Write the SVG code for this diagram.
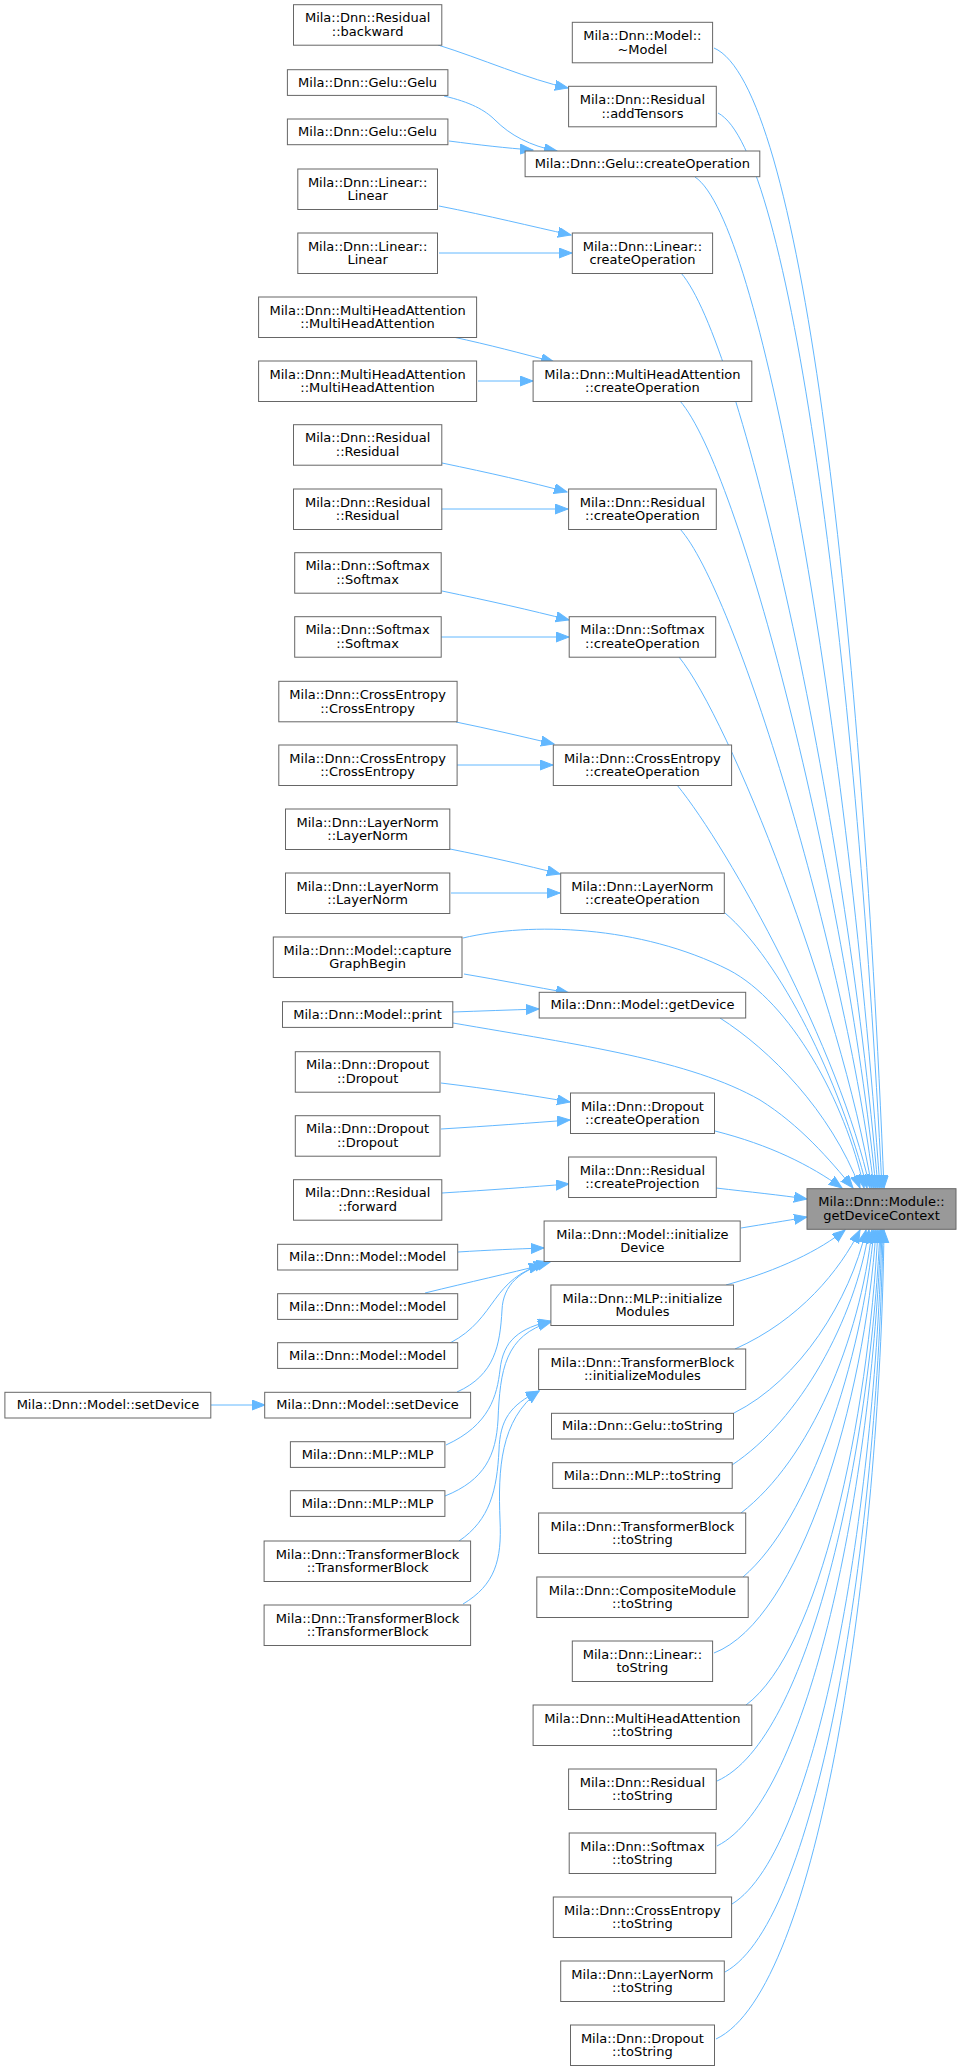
<svg xmlns="http://www.w3.org/2000/svg" width="961" height="2071" viewBox="0 0 961 2071">
<style>
.n rect{fill:#fff;stroke:#666;stroke-width:1}
#target rect{fill:#999}
text{font-family:"DejaVu Sans","Liberation Sans",sans-serif;font-size:13px;text-anchor:middle;fill:#000}
.e path{fill:none;stroke:#63b8ff;stroke-width:1;marker-end:url(#ah)}
</style>
<defs>
<marker id="ah" markerUnits="userSpaceOnUse" markerWidth="14" markerHeight="11" refX="13" refY="5" orient="auto"><path d="M0,0 L13,5 L0,10 Z" fill="#63b8ff" stroke="#63b8ff"/></marker>
</defs>
<rect width="961" height="2071" fill="#fff"/>
<g class="e" id="connectors">
<path d="M438,45 C480,58 530,80 568,88"/>
<path d="M444,96 C470,102 485,110 495,120 C510,135 530,146 557,151"/>
<path d="M449,141 C480,145 505,148 533,150"/>
<path d="M439,206 C490,216 530,226 571,235"/>
<path d="M439,253 L572,253"/>
<path d="M453,337 C490,345 520,353 554,362"/>
<path d="M478,381 L533,381"/>
<path d="M442,463 C490,473 530,482 567,492"/>
<path d="M442,509 L568,509"/>
<path d="M442,591 C490,601 530,610 569,620"/>
<path d="M441,637 L569,637"/>
<path d="M456,722 C490,729 520,736 554,744"/>
<path d="M457,765 L553,765"/>
<path d="M450,849 C490,857 525,865 560,874"/>
<path d="M451,893 L560,893"/>
<path d="M464,974 C500,980 535,987 569,993"/>
<path d="M453,1012 C480,1011 510,1010 539,1009"/>
<path d="M441,1083 C490,1089 530,1095 570,1102"/>
<path d="M441,1129 C490,1126 530,1123 570,1120"/>
<path d="M442,1193 C490,1190 530,1187 569,1184"/>
<path d="M458,1252 C490,1250 515,1249 544,1248"/>
<path d="M425,1293 C470,1282 510,1273 542,1265"/>
<path d="M450,1343 C498,1318 490,1278 547,1263"/>
<path d="M457,1392 C495,1375 500,1345 502,1310 C503,1285 520,1270 550,1262"/>
<path d="M211,1405 L265,1405"/>
<path d="M446,1445 C490,1425 497,1395 500,1370 C503,1340 520,1328 551,1321"/>
<path d="M445,1496 C485,1480 496,1455 498,1420 C500,1370 505,1335 551,1322"/>
<path d="M459,1541 C490,1520 497,1490 499,1450 C500,1420 510,1405 539,1391"/>
<path d="M463,1604 C495,1585 502,1560 500,1520 C498,1470 500,1420 539,1391"/>
<path d="M714,48 C800,85 860,600 884,1188"/>
<path d="M718,113 C790,150 855,650 882,1188"/>
<path d="M695,177 C760,220 845,700 880,1188"/>
<path d="M681,273 C740,340 845,800 878,1188"/>
<path d="M680,401 C740,470 845,880 876,1188"/>
<path d="M680,529 C735,590 845,950 874,1188"/>
<path d="M679,657 C730,720 840,1000 872,1188"/>
<path d="M677,785 C730,850 840,1050 870,1188"/>
<path d="M725,913 C780,960 840,1080 867,1188"/>
<path d="M463,938 C530,922 640,925 729,970 C790,1002 845,1100 864,1188"/>
<path d="M720,1018 C770,1050 830,1110 860,1188"/>
<path d="M453,1023 C580,1045 690,1060 760,1100 C800,1125 830,1160 853,1188"/>
<path d="M715,1131 C770,1145 810,1165 842,1188"/>
<path d="M716,1188 C750,1192 780,1195 807,1199"/>
<path d="M741,1228 C765,1224 785,1221 807,1217"/>
<path d="M726,1285 C780,1270 820,1250 845,1230"/>
<path d="M735,1349 C800,1320 840,1270 860,1230"/>
<path d="M734,1413 C800,1380 850,1300 866,1230"/>
<path d="M732,1465 C800,1420 855,1320 869,1230"/>
<path d="M741,1513 C810,1460 860,1340 872,1230"/>
<path d="M743,1577 C810,1520 862,1360 874,1230"/>
<path d="M714,1653 C800,1620 865,1400 876,1230"/>
<path d="M746,1705 C820,1650 868,1420 878,1230"/>
<path d="M717,1781 C810,1740 870,1450 880,1230"/>
<path d="M717,1846 C810,1800 872,1480 881,1230"/>
<path d="M732,1904 C820,1850 875,1500 882,1230"/>
<path d="M725,1972 C820,1920 878,1530 883,1230"/>
<path d="M716,2039 C820,1990 880,1560 884,1230"/>
</g>
<g class="n" id="res_backward"><rect x="293.5" y="4.7" width="148.3" height="40.5"/><text x="367.6" y="22.4">Mila::Dnn::Residual</text><text x="367.6" y="36">::backward</text></g>
<g class="n" id="gelu1"><rect x="287.4" y="69.7" width="160.5" height="25.7"/><text x="367.6" y="86.5">Mila::Dnn::Gelu::Gelu</text></g>
<g class="n" id="gelu2"><rect x="287.4" y="119" width="160.5" height="25.7"/><text x="367.6" y="135.8">Mila::Dnn::Gelu::Gelu</text></g>
<g class="n" id="lin1"><rect x="297.8" y="169" width="139.7" height="40.5"/><text x="367.6" y="186.7">Mila::Dnn::Linear::</text><text x="367.6" y="200.3">Linear</text></g>
<g class="n" id="lin2"><rect x="297.8" y="233" width="139.7" height="40.5"/><text x="367.6" y="250.7">Mila::Dnn::Linear::</text><text x="367.6" y="264.3">Linear</text></g>
<g class="n" id="mha1"><rect x="258.6" y="297" width="218" height="40.5"/><text x="367.6" y="314.7">Mila::Dnn::MultiHeadAttention</text><text x="367.6" y="328.3">::MultiHeadAttention</text></g>
<g class="n" id="mha2"><rect x="258.6" y="361" width="218" height="40.5"/><text x="367.6" y="378.7">Mila::Dnn::MultiHeadAttention</text><text x="367.6" y="392.3">::MultiHeadAttention</text></g>
<g class="n" id="res1"><rect x="293.5" y="424.7" width="148.3" height="40.5"/><text x="367.6" y="442.4">Mila::Dnn::Residual</text><text x="367.6" y="456">::Residual</text></g>
<g class="n" id="res2"><rect x="293.5" y="489" width="148.3" height="40.5"/><text x="367.6" y="506.7">Mila::Dnn::Residual</text><text x="367.6" y="520.3">::Residual</text></g>
<g class="n" id="soft1"><rect x="294.7" y="552.7" width="146.5" height="40.5"/><text x="367.6" y="570.4">Mila::Dnn::Softmax</text><text x="367.6" y="584">::Softmax</text></g>
<g class="n" id="soft2"><rect x="294.7" y="616.7" width="146.5" height="40.5"/><text x="367.6" y="634.4">Mila::Dnn::Softmax</text><text x="367.6" y="648">::Softmax</text></g>
<g class="n" id="ce1"><rect x="278.8" y="681.3" width="178.3" height="40.5"/><text x="367.6" y="699">Mila::Dnn::CrossEntropy</text><text x="367.6" y="712.6">::CrossEntropy</text></g>
<g class="n" id="ce2"><rect x="278.8" y="745" width="178.3" height="40.5"/><text x="367.6" y="762.7">Mila::Dnn::CrossEntropy</text><text x="367.6" y="776.3">::CrossEntropy</text></g>
<g class="n" id="ln1"><rect x="285.5" y="809" width="164.3" height="40.5"/><text x="367.6" y="826.7">Mila::Dnn::LayerNorm</text><text x="367.6" y="840.3">::LayerNorm</text></g>
<g class="n" id="ln2"><rect x="285.5" y="873" width="164.3" height="40.5"/><text x="367.6" y="890.7">Mila::Dnn::LayerNorm</text><text x="367.6" y="904.3">::LayerNorm</text></g>
<g class="n" id="capture"><rect x="273.3" y="937" width="188.7" height="40.5"/><text x="367.6" y="954.7">Mila::Dnn::Model::capture</text><text x="367.6" y="968.3">GraphBegin</text></g>
<g class="n" id="print"><rect x="282.5" y="1001.7" width="170.3" height="25.7"/><text x="367.6" y="1018.5">Mila::Dnn::Model::print</text></g>
<g class="n" id="drop1"><rect x="295.3" y="1051.7" width="144.7" height="40.5"/><text x="367.6" y="1069.4">Mila::Dnn::Dropout</text><text x="367.6" y="1083">::Dropout</text></g>
<g class="n" id="drop2"><rect x="295.3" y="1115.7" width="144.7" height="40.5"/><text x="367.6" y="1133.4">Mila::Dnn::Dropout</text><text x="367.6" y="1147">::Dropout</text></g>
<g class="n" id="forward"><rect x="293.5" y="1179.7" width="148.3" height="40.5"/><text x="367.6" y="1197.4">Mila::Dnn::Residual</text><text x="367.6" y="1211">::forward</text></g>
<g class="n" id="model1"><rect x="277.6" y="1244.3" width="180.1" height="25.7"/><text x="367.6" y="1261.1">Mila::Dnn::Model::Model</text></g>
<g class="n" id="model2"><rect x="277.6" y="1293.7" width="180.1" height="25.7"/><text x="367.6" y="1310.5">Mila::Dnn::Model::Model</text></g>
<g class="n" id="model3"><rect x="277.6" y="1342.7" width="180.1" height="25.7"/><text x="367.6" y="1359.5">Mila::Dnn::Model::Model</text></g>
<g class="n" id="setdev0"><rect x="4.9" y="1392.3" width="205.9" height="25.7"/><text x="107.9" y="1409.1">Mila::Dnn::Model::setDevice</text></g>
<g class="n" id="setdev"><rect x="264.7" y="1392.3" width="205.9" height="25.7"/><text x="367.6" y="1409.1">Mila::Dnn::Model::setDevice</text></g>
<g class="n" id="mlp1"><rect x="290.4" y="1441.7" width="154.5" height="25.7"/><text x="367.6" y="1458.5">Mila::Dnn::MLP::MLP</text></g>
<g class="n" id="mlp2"><rect x="290.4" y="1490.7" width="154.5" height="25.7"/><text x="367.6" y="1507.5">Mila::Dnn::MLP::MLP</text></g>
<g class="n" id="tb1"><rect x="264.1" y="1541" width="206.5" height="40.5"/><text x="367.6" y="1558.7">Mila::Dnn::TransformerBlock</text><text x="367.6" y="1572.3">::TransformerBlock</text></g>
<g class="n" id="tb2"><rect x="264.1" y="1605" width="206.5" height="40.5"/><text x="367.6" y="1622.7">Mila::Dnn::TransformerBlock</text><text x="367.6" y="1636.3">::TransformerBlock</text></g>
<g class="n" id="model_dtor"><rect x="572.3" y="22.3" width="140.3" height="40.5"/><text x="642.4" y="40">Mila::Dnn::Model::</text><text x="642.4" y="53.6">~Model</text></g>
<g class="n" id="addtensors"><rect x="568.6" y="86.3" width="147.7" height="40.5"/><text x="642.4" y="104">Mila::Dnn::Residual</text><text x="642.4" y="117.6">::addTensors</text></g>
<g class="n" id="gelu_cop"><rect x="525.1" y="151" width="234.7" height="25.7"/><text x="642.4" y="167.8">Mila::Dnn::Gelu::createOperation</text></g>
<g class="n" id="lin_cop"><rect x="572.3" y="233" width="140.3" height="40.5"/><text x="642.4" y="250.7">Mila::Dnn::Linear::</text><text x="642.4" y="264.3">createOperation</text></g>
<g class="n" id="mha_cop"><rect x="533.1" y="361" width="218.7" height="40.5"/><text x="642.4" y="378.7">Mila::Dnn::MultiHeadAttention</text><text x="642.4" y="392.3">::createOperation</text></g>
<g class="n" id="res_cop"><rect x="568.6" y="489" width="147.7" height="40.5"/><text x="642.4" y="506.7">Mila::Dnn::Residual</text><text x="642.4" y="520.3">::createOperation</text></g>
<g class="n" id="soft_cop"><rect x="569.2" y="616.7" width="146.5" height="40.5"/><text x="642.4" y="634.4">Mila::Dnn::Softmax</text><text x="642.4" y="648">::createOperation</text></g>
<g class="n" id="ce_cop"><rect x="553.3" y="745" width="178.3" height="40.5"/><text x="642.4" y="762.7">Mila::Dnn::CrossEntropy</text><text x="642.4" y="776.3">::createOperation</text></g>
<g class="n" id="ln_cop"><rect x="560.7" y="873" width="163.6" height="40.5"/><text x="642.4" y="890.7">Mila::Dnn::LayerNorm</text><text x="642.4" y="904.3">::createOperation</text></g>
<g class="n" id="getdevice"><rect x="539.2" y="992.3" width="206.5" height="25.7"/><text x="642.4" y="1009.1">Mila::Dnn::Model::getDevice</text></g>
<g class="n" id="drop_cop"><rect x="570.5" y="1093" width="144" height="40.5"/><text x="642.4" y="1110.7">Mila::Dnn::Dropout</text><text x="642.4" y="1124.3">::createOperation</text></g>
<g class="n" id="res_cproj"><rect x="568.6" y="1157" width="147.7" height="40.5"/><text x="642.4" y="1174.7">Mila::Dnn::Residual</text><text x="642.4" y="1188.3">::createProjection</text></g>
<g class="n" id="initdevice"><rect x="544.1" y="1221" width="196.1" height="40.5"/><text x="642.4" y="1238.7">Mila::Dnn::Model::initialize</text><text x="642.4" y="1252.3">Device</text></g>
<g class="n" id="mlp_init"><rect x="550.9" y="1285" width="182.6" height="40.5"/><text x="642.4" y="1302.7">Mila::Dnn::MLP::initialize</text><text x="642.4" y="1316.3">Modules</text></g>
<g class="n" id="tb_init"><rect x="538.6" y="1349" width="207.1" height="40.5"/><text x="642.4" y="1366.7">Mila::Dnn::TransformerBlock</text><text x="642.4" y="1380.3">::initializeModules</text></g>
<g class="n" id="gelu_ts"><rect x="551.5" y="1413.3" width="182" height="25.7"/><text x="642.4" y="1430.1">Mila::Dnn::Gelu::toString</text></g>
<g class="n" id="mlp_ts"><rect x="552.7" y="1462.7" width="179.5" height="25.7"/><text x="642.4" y="1479.5">Mila::Dnn::MLP::toString</text></g>
<g class="n" id="tb_ts"><rect x="538.6" y="1513" width="207.1" height="40.5"/><text x="642.4" y="1530.7">Mila::Dnn::TransformerBlock</text><text x="642.4" y="1544.3">::toString</text></g>
<g class="n" id="comp_ts"><rect x="536.8" y="1577" width="211.4" height="40.5"/><text x="642.4" y="1594.7">Mila::Dnn::CompositeModule</text><text x="642.4" y="1608.3">::toString</text></g>
<g class="n" id="lin_ts"><rect x="572.3" y="1641" width="140.3" height="40.5"/><text x="642.4" y="1658.7">Mila::Dnn::Linear::</text><text x="642.4" y="1672.3">toString</text></g>
<g class="n" id="mha_ts"><rect x="533.1" y="1705" width="218.7" height="40.5"/><text x="642.4" y="1722.7">Mila::Dnn::MultiHeadAttention</text><text x="642.4" y="1736.3">::toString</text></g>
<g class="n" id="res_ts"><rect x="568.6" y="1769" width="147.7" height="40.5"/><text x="642.4" y="1786.7">Mila::Dnn::Residual</text><text x="642.4" y="1800.3">::toString</text></g>
<g class="n" id="soft_ts"><rect x="569.2" y="1833" width="146.5" height="40.5"/><text x="642.4" y="1850.7">Mila::Dnn::Softmax</text><text x="642.4" y="1864.3">::toString</text></g>
<g class="n" id="ce_ts"><rect x="553.3" y="1897" width="178.3" height="40.5"/><text x="642.4" y="1914.7">Mila::Dnn::CrossEntropy</text><text x="642.4" y="1928.3">::toString</text></g>
<g class="n" id="ln_ts"><rect x="560.7" y="1961" width="163.6" height="40.5"/><text x="642.4" y="1978.7">Mila::Dnn::LayerNorm</text><text x="642.4" y="1992.3">::toString</text></g>
<g class="n" id="drop_ts"><rect x="570.5" y="2025" width="144" height="40.5"/><text x="642.4" y="2042.7">Mila::Dnn::Dropout</text><text x="642.4" y="2056.3">::toString</text></g>
<g class="n" id="target"><rect x="807" y="1188.7" width="149" height="40.6"/><text x="881.5" y="1206.4">Mila::Dnn::Module::</text><text x="881.5" y="1220">getDeviceContext</text></g>
</svg>
